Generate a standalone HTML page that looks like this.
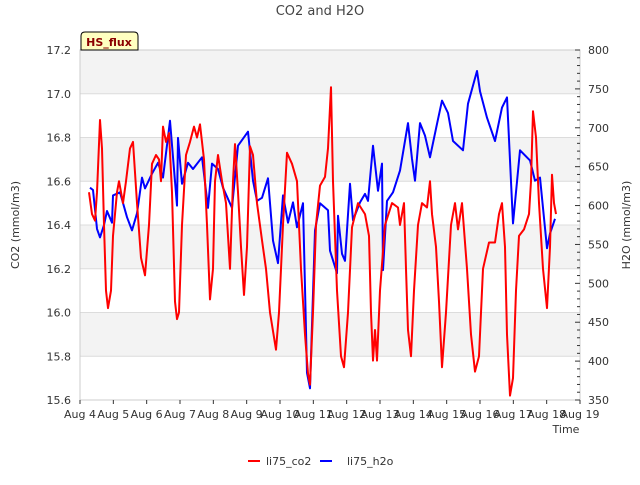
<!DOCTYPE html>
<html><head><meta charset="utf-8"><style>
body{margin:0;background:#fff;font-family:"Liberation Sans","DejaVu Sans",sans-serif}
svg text{font-family:"DejaVu Sans","Liberation Sans",sans-serif}
</style></head><body>
<svg id="chart" width="640" height="480" xmlns="http://www.w3.org/2000/svg">
<rect x="0" y="0" width="640" height="480" fill="#fff"/>
<g id="bands"></g>
<g id="grid"></g>
<rect x="80" y="50" width="500" height="350" fill="none" stroke="#ccc" stroke-width="1"/>
<g id="series"></g>
<g id="axes"></g>
<text x="320" y="15" text-anchor="middle" font-size="13" fill="#444">CO2 and H2O</text>
<text transform="translate(19,225) rotate(-90)" text-anchor="middle" font-size="11" fill="#333">CO2 (mmol/m3)</text>
<text transform="translate(630,225) rotate(-90)" text-anchor="middle" font-size="11" fill="#333">H2O (mmol/m3)</text>
<text x="566" y="433" text-anchor="middle" font-size="11" fill="#333">Time</text>
<g>
<path d="M81,50 L81,36 Q81,32 85,32 L134,32 Q138,32 138,36 L138,50 Z" fill="#ffffc0" stroke="#000" stroke-width="1"/>
<text x="109" y="46" text-anchor="middle" font-size="11" font-weight="bold" fill="#8b0000">HS_flux</text>
</g>
<g>
<g><line x1="248" y1="461" x2="260" y2="461" stroke="#f00" stroke-width="2"/><text x="266" y="465" font-size="11" fill="#333">li75_co2</text></g>
<g><line x1="320" y1="461" x2="332" y2="461" stroke="#00f" stroke-width="2"/><text x="347" y="465" font-size="11" fill="#333">li75_h2o</text></g>
</g>
</svg>
<script>
const xTickLabels=["Aug 4","Aug 5","Aug 6","Aug 7","Aug 8","Aug 9","Aug 10","Aug 11","Aug 12","Aug 13","Aug 14","Aug 15","Aug 16","Aug 17","Aug 18","Aug 19"];
const leftTicks=[15.6,15.8,16.0,16.2,16.4,16.6,16.8,17.0,17.2];
const rightTicks=[350,400,450,500,550,600,650,700,750,800];
const co2Days=[0.27,0.36,0.45,0.51,0.6,0.66,0.72,0.78,0.84,0.93,0.99,1.11,1.17,1.29,1.38,1.5,1.59,1.71,1.83,1.95,2.07,2.16,2.28,2.37,2.43,2.49,2.58,2.67,2.76,2.85,2.91,2.97,3.06,3.18,3.3,3.42,3.51,3.6,3.72,3.81,3.9,3.99,4.05,4.14,4.26,4.38,4.5,4.59,4.65,4.74,4.83,4.92,5.01,5.1,5.19,5.31,5.46,5.58,5.7,5.88,5.97,6.09,6.21,6.36,6.51,6.63,6.75,6.84,6.9,6.99,7.08,7.2,7.35,7.44,7.53,7.59,7.71,7.83,7.92,8.04,8.16,8.34,8.55,8.67,8.73,8.79,8.85,8.91,9.0,9.15,9.36,9.54,9.6,9.72,9.78,9.84,9.93,10.02,10.14,10.26,10.41,10.5,10.56,10.68,10.77,10.86,10.98,11.13,11.25,11.34,11.46,11.61,11.73,11.85,11.97,12.09,12.27,12.45,12.57,12.66,12.75,12.81,12.9,12.99,13.08,13.17,13.32,13.47,13.53,13.59,13.68,13.77,13.89,14.01,14.1,14.16,14.22,14.28];
const co2Vals=[16.55,16.45,16.42,16.55,16.88,16.75,16.4,16.1,16.02,16.1,16.35,16.55,16.6,16.5,16.6,16.75,16.78,16.5,16.25,16.17,16.4,16.68,16.72,16.7,16.6,16.85,16.78,16.82,16.55,16.05,15.97,16.0,16.4,16.72,16.78,16.85,16.8,16.86,16.7,16.4,16.06,16.2,16.6,16.72,16.6,16.5,16.2,16.6,16.77,16.55,16.3,16.08,16.3,16.76,16.72,16.5,16.33,16.2,16.0,15.83,16.0,16.4,16.73,16.68,16.6,16.2,15.9,15.72,15.67,16.0,16.4,16.58,16.62,16.75,17.03,16.6,16.1,15.8,15.75,16.0,16.39,16.5,16.45,16.35,16.0,15.78,15.92,15.78,16.1,16.4,16.5,16.48,16.4,16.5,16.2,15.92,15.8,16.1,16.4,16.5,16.48,16.6,16.45,16.3,16.05,15.75,16.0,16.4,16.5,16.38,16.5,16.2,15.9,15.73,15.8,16.2,16.32,16.32,16.45,16.5,16.3,15.9,15.62,15.7,16.1,16.35,16.38,16.45,16.6,16.92,16.8,16.5,16.2,16.02,16.3,16.63,16.5,16.45];
const h2oDays=[0.3,0.39,0.51,0.6,0.72,0.81,0.96,0.99,1.2,1.41,1.56,1.71,1.86,1.95,2.16,2.34,2.49,2.7,2.91,2.94,3.06,3.24,3.39,3.66,3.84,3.96,4.14,4.29,4.56,4.74,4.89,5.04,5.19,5.31,5.46,5.64,5.79,5.94,6.09,6.24,6.39,6.51,6.69,6.81,6.9,7.05,7.2,7.44,7.5,7.71,7.74,7.86,7.95,8.1,8.19,8.4,8.55,8.64,8.79,8.94,9.06,9.09,9.21,9.39,9.6,9.84,9.96,10.05,10.2,10.35,10.5,10.71,10.86,11.04,11.19,11.49,11.64,11.91,12.0,12.21,12.45,12.66,12.81,12.99,13.2,13.5,13.65,13.8,14.01,14.1,14.25];
const h2oVals=[623,620,570,559,575,593,578,613,617,585,568,590,636,622,641,655,636,709,600,687,628,655,647,662,597,654,647,623,597,677,686,695,632,606,610,635,555,526,613,578,604,572,603,385,365,568,603,594,542,513,587,538,529,628,581,604,615,606,677,619,654,517,606,617,645,706,660,632,706,690,662,705,735,719,683,671,731,773,747,713,683,726,739,577,671,658,632,636,545,564,583];
const NS="http://www.w3.org/2000/svg";
const X0=80,X1=580,Y0=400,Y1=50;
function xs(d){return X0+d*(X1-X0)/15;}
function yl(v){return Y0-(v-15.6)*(Y0-Y1)/1.6;}
function yr(v){return Y0-(v-350)*(Y0-Y1)/450;}
function mk(tag,attrs,parent){const e=document.createElementNS(NS,tag);for(const k in attrs)e.setAttribute(k,attrs[k]);parent.appendChild(e);return e;}
const bands=document.getElementById('bands'),grid=document.getElementById('grid'),axes=document.getElementById('axes'),series=document.getElementById('series');
for(let i=0;i<leftTicks.length-1;i++){
  if((leftTicks.length-2-i)%2===0){
    const r=mk('rect',{x:X0,y:yl(leftTicks[i+1]),width:X1-X0,height:yl(leftTicks[i])-yl(leftTicks[i+1]),fill:'#f3f3f3'},bands);
    
    
  }
}
leftTicks.forEach(v=>{
  const l=mk('line',{x1:X0,x2:X1,y1:yl(v),y2:yl(v),stroke:'#dcdcdc','stroke-width':1},grid);
  
  
  const t=mk('text',{x:X0-9,y:yl(v)+4,'text-anchor':'end','font-size':11,fill:'#333'},axes);
  t.textContent=v.toFixed(1);
  
  
});
rightTicks.forEach(v=>{
  const t=mk('text',{x:X1+8,y:yr(v)+4,'text-anchor':'start','font-size':11,fill:'#333'},axes);
  t.textContent=v;
  
  
});
for(let v=350;v<=800;v+=10){
  const major=v%50===0;
  const l=mk('line',{x1:X1,x2:X1-(major?5:3),y1:yr(v),y2:yr(v),stroke:'#333','stroke-width':1},axes);
  
  
}
xTickLabels.forEach((s,i)=>{
  const l=mk('line',{x1:xs(i),x2:xs(i),y1:Y0,y2:Y0+4,stroke:'#333','stroke-width':1},axes);
  
  
  const t=mk('text',{x:xs(i),y:Y0+18,'text-anchor':'middle','font-size':11,fill:'#333'},axes);
  t.textContent=s;
  
  
});
function line(days,vals,yf,color,name){
  const d=days.map((dd,i)=>(i?'L':'M')+xs(dd).toFixed(1)+','+yf(vals[i]).toFixed(1)).join(' ');
  const p=mk('path',{d:d,fill:'none',stroke:color,'stroke-width':2,'stroke-linejoin':'round'},series);
  
  
}
line(h2oDays,h2oVals,yr,'#0000ff','h2o-line');
line(co2Days,co2Vals,yl,'#ff0000','co2-line');
</script>
</body></html>
